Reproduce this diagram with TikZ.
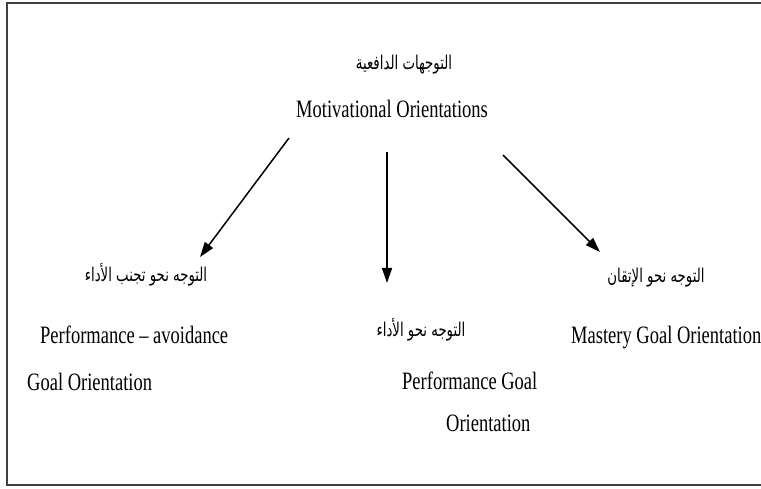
\documentclass[tikz,border=0pt]{standalone}
\usepackage{fontspec}
\setmainfont{Liberation Serif}[FakeStretch=0.74]
\newfontfamily\arabicfont[Script=Arabic,FakeStretch=0.7]{DejaVu Sans}
\TeXXeTstate=1
\usetikzlibrary{arrows.meta}

\begin{document}
\begin{tikzpicture}[x=1pt,y=-1pt,
  lat/.style={font=\fontsize{25}{29}\selectfont, inner sep=0pt, anchor=base west},
  arb/.style={font=\arabicfont\fontsize{19}{22}\selectfont, inner sep=0pt, anchor=base},
  link/.style={line width=1.5pt, -{Triangle[length=15pt,width=10pt]}}]
\useasboundingbox (0,0) rectangle (761,489);
% outer frame (runs past the right edge)
\draw[line width=2pt, black!75] (7,3) rectangle (790,485);

% root
\node[arb] (rootar) at (404,70) {\beginR التوجهات الدافعية\endR};
\node[lat] (root) at (296,118) {Motivational Orientations};

% avoidance branch
\node[arb] (avoidar) at (146,282) {\beginR التوجه نحو تجنب الأداء\endR};
\node[lat] (avoid1) at (40,343) {Performance – avoidance};
\node[lat] (avoid2) at (27,390) {Goal Orientation};

% performance branch
\node[arb] (perfar) at (421,337) {\beginR التوجه نحو الأداء\endR};
\node[lat] (perf1) at (402,389) {Performance Goal};
\node[lat] (perf2) at (446,431) {Orientation};

% mastery branch
\node[arb] (mastar) at (656,283) {\beginR التوجه نحو الإتقان\endR};
\node[lat] (mast) at (571,343) {Mastery Goal Orientation};

% arrow end points
\coordinate (sL) at (289,138);
\coordinate (tL) at (200,257);
\coordinate (sM) at (387,152);
\coordinate (tM) at (387,283);
\coordinate (sR) at (503,155);
\coordinate (tR) at (600,252);

\draw[link] (sL) -- (tL);
\draw[link] (sM) -- (tM);
\draw[link] (sR) -- (tR);
\end{tikzpicture}
\end{document}
